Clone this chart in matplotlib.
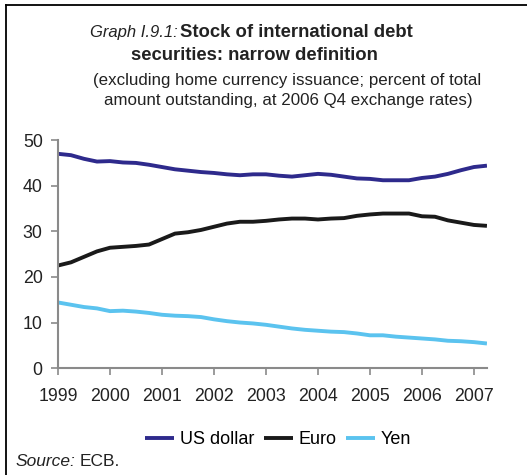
import matplotlib
matplotlib.use('Agg')
import matplotlib.pyplot as plt
from matplotlib.lines import Line2D

plt.rcParams['font.family'] = ['Liberation Sans', 'DejaVu Sans']

# 四半期データ（1999Q1〜2007Q2）
quarters = [f"{y}Q{q}" for y in range(1999, 2008) for q in range(1, 5)][:34]
us_dollar = [47.0, 46.7, 45.9, 45.3, 45.4, 45.1, 45.0, 44.6, 44.1, 43.6, 43.3, 43.0,
             42.8, 42.5, 42.3, 42.5, 42.5, 42.2, 42.0, 42.3, 42.6, 42.4, 42.0, 41.6,
             41.5, 41.2, 41.2, 41.2, 41.7, 42.0, 42.6, 43.4, 44.1, 44.4]
euro = [22.5, 23.2, 24.4, 25.6, 26.4, 26.6, 26.8, 27.1, 28.3, 29.5, 29.8, 30.3,
        31.0, 31.7, 32.1, 32.1, 32.3, 32.6, 32.8, 32.8, 32.6, 32.8, 32.9, 33.4,
        33.7, 33.9, 33.9, 33.9, 33.3, 33.2, 32.4, 31.9, 31.4, 31.2]
yen = [14.4, 13.9, 13.4, 13.1, 12.5, 12.6, 12.4, 12.1, 11.7, 11.5, 11.4, 11.2,
       10.7, 10.3, 10.0, 9.8, 9.5, 9.1, 8.7, 8.4, 8.2, 8.0, 7.9, 7.6,
       7.2, 7.2, 6.9, 6.7, 6.5, 6.3, 6.0, 5.9, 5.7, 5.4]
year_labels = ['1999', '2000', '2001', '2002', '2003', '2004', '2005', '2006', '2007']

c_usd = '#2e2a8c'
c_eur = '#1a1a1a'
c_yen = '#5bc3ef'

fig = plt.figure(figsize=(5.27, 4.75), dpi=100)
ax = fig.add_axes([0.110, 0.225, 0.814, 0.480])

x = list(range(len(quarters)))
ax.plot(x, us_dollar, color=c_usd, lw=2.8, label='US dollar', solid_capstyle='butt')
ax.plot(x, euro, color=c_eur, lw=2.8, label='Euro', solid_capstyle='butt')
ax.plot(x, yen, color=c_yen, lw=2.8, label='Yen', solid_capstyle='butt')

ax.set_xlim(0, len(quarters) - 1)
ax.set_ylim(0, 50)
ax.set_yticks([0, 10, 20, 30, 40, 50])
ax.set_xticks(range(0, len(quarters), 4))
ax.set_xticklabels(year_labels)

for s in ['top', 'right']:
    ax.spines[s].set_visible(False)
for s in ['left', 'bottom']:
    ax.spines[s].set_color('#8a8a8a')
    ax.spines[s].set_linewidth(1.5)
ax.tick_params(axis='both', direction='out', length=5, width=1.2, color='#8a8a8a',
               labelsize=12.8, labelcolor='#222222')
ax.tick_params(axis='x', pad=9)
ax.tick_params(axis='y', pad=6)

# タイトル
fig.text(90 / 527, 1 - 37 / 475, 'Graph I.9.1:', style='italic', fontsize=12,
         ha='left', va='baseline', color='#222222')
fig.text(180 / 527, 1 - 37 / 475, 'Stock of international debt', fontweight='bold',
         fontsize=13.3, ha='left', va='baseline', color='#222222')
fig.text(131 / 527, 1 - 60 / 475, 'securities: narrow definition', fontweight='bold',
         fontsize=13.3, ha='left', va='baseline', color='#222222')
fig.text(287 / 527, 1 - 80 / 475, '(excluding home currency issuance; percent of total',
         fontsize=12.2, ha='center', va='center', color='#222222')
fig.text(288 / 527, 1 - 101 / 475, 'amount outstanding, at 2006 Q4 exchange rates)',
         fontsize=12.2, ha='center', va='center', color='#222222')

# 凡例
fig.legend(loc='center', bbox_to_anchor=(0.528, 1 - 440 / 475), ncol=3, frameon=False,
           fontsize=13, handlelength=1.6, handletextpad=0.3, columnspacing=0.55)

# 出典
fig.text(15 / 527, 1 - 461 / 475, 'Source:', style='italic', fontsize=12.5,
         ha='left', va='center', color='#222222')
fig.text(80 / 527, 1 - 461 / 475, 'ECB.', fontsize=12.5, ha='left', va='center',
         color='#222222')

# 枠線
fig.add_artist(Line2D([6 / 527, 6 / 527], [0, 1 - 5 / 475], transform=fig.transFigure,
                      color='black', lw=1.3))
fig.add_artist(Line2D([6 / 527, 1], [1 - 5 / 475, 1 - 5 / 475], transform=fig.transFigure,
                      color='black', lw=1.3))

fig.savefig('out.png', dpi=100)
